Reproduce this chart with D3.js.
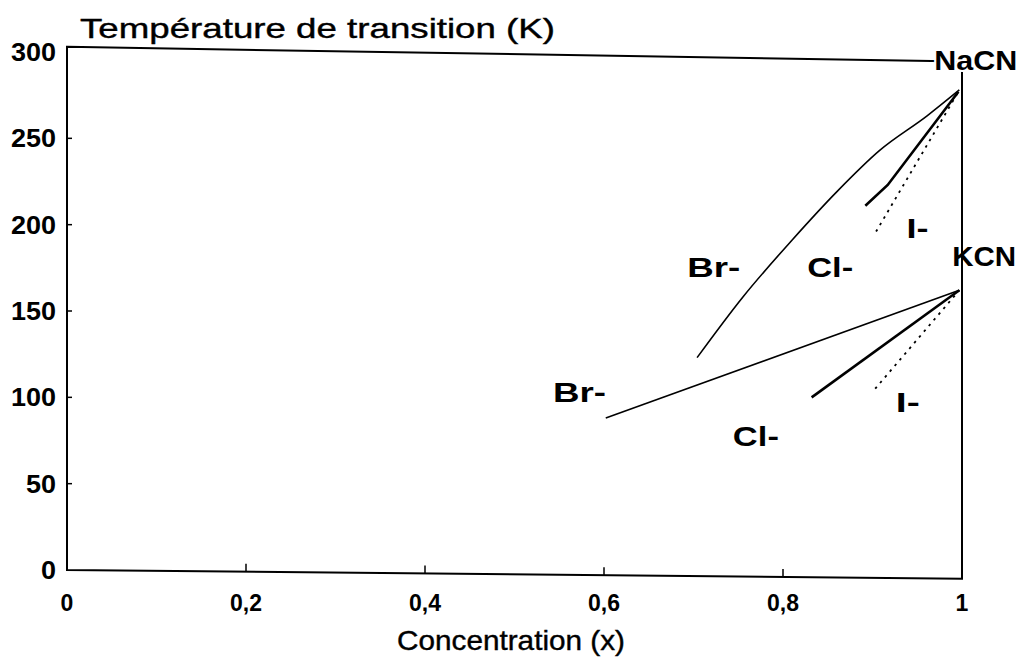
<!DOCTYPE html>
<html><head><meta charset="utf-8">
<script src="https://cdn.jsdelivr.net/npm/d3@7"></script>
<style>
body{margin:0;background:#fff;}
text{font-family:"Liberation Sans",Arial,sans-serif;fill:#000;}
</style></head>
<body><svg id="c" width="1022" height="661"></svg>
<script>
const xTicks = [0, 0.2, 0.4, 0.6, 0.8, 1];
const xTickLabels = ["0", "0,2", "0,4", "0,6", "0,8", "1"];
const yTicks = [0, 50, 100, 150, 200, 250, 300];
const yTickLabels = ["0", "50", "100", "150", "200", "250", "300"];

// NaCN series
const naBrX = [0.704, 0.755, 0.810, 0.860, 0.908, 0.961, 0.997];
const naBrY = [123, 158, 191, 219, 243, 263, 278];
const naClX = [0.892, 0.917, 0.996];
const naClY = [211, 223, 277];
const naIX = [0.904, 0.996];
const naIY = [196, 277];
// KCN series
const kBrX = [0.602, 0.997];
const kBrY = [88, 162];
const kClX = [0.832, 0.997];
const kClY = [100, 162];
const kIX = [0.903, 0.997];
const kIY = [105, 162];

const labelText = ["NaCN", "KCN", "Br-", "Cl-", "I-", "Br-", "Cl-", "I-"];
const labelX = [0.969, 0.989, 0.693, 0.827, 0.938, 0.543, 0.744, 0.926];
const labelY = [289.5, 176, 169.5, 169.5, 192.5, 97.5, 72, 91.5];
const labelW = [83, 64, 53, 46, 22, 53, 46, 24];

const svg = d3.select("#c");
const x = d3.scaleLinear().domain([0,1]).range([67,962]);
const y = d3.scaleLinear().domain([0,300]).range([570,52]);

const g = svg.append("g");
// frame (the scanned original is slightly tilted)
const tilt = 5;
g.append("path").attr("d", `M${x(0)},${y(303)}L${x(1)},${y(294.5)}L${x(1)},${y(-tilt)}L${x(0)},${y(0)}Z`)
  .attr("fill","none").attr("stroke","#000").attr("stroke-width",2);

// y ticks
g.selectAll(".yt").data(yTicks.slice(1,6)).join("line")
  .attr("x1",x(0)).attr("x2",x(0)+5).attr("y1",d=>y(d)).attr("y2",d=>y(d))
  .attr("stroke","#000").attr("stroke-width",1.5);
g.selectAll(".ytl").data(yTicks).join("text")
  .attr("x",56).attr("y",d=>y(d)+9).attr("text-anchor","end")
  .attr("font-size",25).attr("font-weight","bold")
  .attr("textLength",(d,i)=>yTickLabels[i].length*15).attr("lengthAdjust","spacingAndGlyphs")
  .text((d,i)=>yTickLabels[i]);

// x ticks
g.selectAll(".xt").data(xTicks.slice(1,5)).join("line")
  .attr("x1",d=>x(d)).attr("x2",d=>x(d)).attr("y1",d=>y(-tilt*d)).attr("y2",d=>y(-tilt*d)-8)
  .attr("stroke","#000").attr("stroke-width",1.5);
g.selectAll(".xtl").data(xTicks).join("text")
  .attr("x",d=>x(d)).attr("y",611).attr("text-anchor","middle")
  .attr("font-size",23).attr("font-weight","bold")
  .text((d,i)=>xTickLabels[i]);

// titles
g.append("text").attr("x",80).attr("y",38).attr("font-size",28)
  .attr("stroke","#000").attr("stroke-width",0.4)
  .attr("textLength",475).attr("lengthAdjust","spacingAndGlyphs")
  .text("Température de transition (K)");
g.append("text").attr("x",397).attr("y",650).attr("font-size",28)
  .attr("stroke","#000").attr("stroke-width",0.4)
  .attr("textLength",228).attr("lengthAdjust","spacingAndGlyphs")
  .text("Concentration (x)");

const line = d3.line().x(d=>x(d[0])).y(d=>y(d[1]));
const zip = (a,b)=>a.map((v,i)=>[v,b[i]]);
const series = [
  {d:zip(naBrX,naBrY), w:1.6, dash:null, curve:d3.curveMonotoneX},
  {d:zip(naClX,naClY), w:2.6, dash:null, curve:d3.curveLinear},
  {d:zip(naIX,naIY), w:1.8, dash:"2.5,5", curve:d3.curveLinear},
  {d:zip(kBrX,kBrY), w:1.6, dash:null, curve:d3.curveLinear},
  {d:zip(kClX,kClY), w:2.6, dash:null, curve:d3.curveLinear},
  {d:zip(kIX,kIY), w:1.8, dash:"2.5,5", curve:d3.curveLinear}
];
series.forEach(s=>{
  g.append("path").attr("d", line.curve(s.curve)(s.d))
    .attr("fill","none").attr("stroke","#000").attr("stroke-width",s.w)
    .attr("stroke-dasharray",s.dash);
});

g.selectAll(".lab").data(labelText).join("text")
  .attr("x",(d,i)=>x(labelX[i])).attr("y",(d,i)=>y(labelY[i]))
  .attr("font-size",28).attr("font-weight","bold")
  .attr("stroke",(d,i)=>i===0?"#fff":"none").attr("stroke-width",4).attr("paint-order","stroke")
  .attr("textLength",(d,i)=>labelW[i]).attr("lengthAdjust","spacingAndGlyphs")
  .text(d=>d);
</script></body></html>
